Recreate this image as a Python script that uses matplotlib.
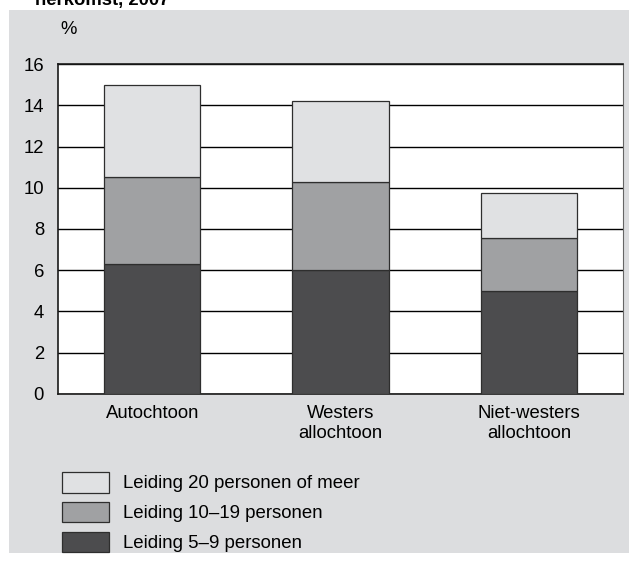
import numpy as np
import matplotlib.pyplot as plt
from matplotlib.patches import Patch, Rectangle

plt.rcParams['font.family'] = ['Liberation Sans', 'DejaVu Sans']

categories = ['Autochtoon', 'Westers\nallochtoon', 'Niet-westers\nallochtoon']
leiding_5_9 = [6.3, 6.0, 5.0]
leiding_10_19 = [4.2, 4.3, 2.55]
leiding_20_plus = [4.5, 3.9, 2.2]
yticks = [0, 2, 4, 6, 8, 10, 12, 14, 16]

c_dark = '#4c4c4e'
c_mid = '#a0a1a3'
c_light = '#e0e1e3'
panel = '#dcdddf'

fig = plt.figure(figsize=(6.29, 5.65), dpi=100)
fig.patches.append(Rectangle((0.0143, 0.0212), 0.99, 0.961, transform=fig.transFigure,
                             facecolor=panel, edgecolor='none', zorder=-10))

ax = fig.add_axes([0.0922, 0.3027, 0.8983, 0.584])
x = np.arange(len(categories))
w = 0.51
low = np.array(leiding_5_9)
mid = np.array(leiding_10_19)
top = np.array(leiding_20_plus)
ax.bar(x, low, w, color=c_dark, edgecolor='#2e2e2e', linewidth=0.9, zorder=3)
ax.bar(x, mid, w, bottom=low, color=c_mid, edgecolor='#2e2e2e', linewidth=0.9, zorder=3)
ax.bar(x, top, w, bottom=low + mid, color=c_light, edgecolor='#2e2e2e', linewidth=0.9, zorder=3)

ax.set_xlim(-0.5, 2.5)
ax.set_ylim(0, 16)
ax.set_yticks(yticks)
ax.set_xticks(x)
ax.set_xticklabels(categories, fontsize=13.3, linespacing=1.2)
ax.tick_params(axis='y', length=0, pad=10, labelsize=13.3)
ax.tick_params(axis='x', length=0, pad=8)
ax.yaxis.grid(True, color='black', linewidth=1.0, zorder=0)
ax.set_axisbelow(True)
ax.set_facecolor('white')
for s in ['left', 'bottom', 'top']:
    ax.spines[s].set_color('#1a1a1a')
    ax.spines[s].set_linewidth(1.2)
ax.spines['right'].set_color('#666666')

fig.text(0.096, 1 - 30 / 565, '%', fontsize=13.3, va='center', ha='left')
fig.text(0.056, 1 - 5 / 565, 'herkomst, 2007', fontsize=13.3, fontweight='bold',
         va='baseline', ha='left')

handles = [Patch(facecolor=c_light, edgecolor='#2e2e2e', linewidth=0.9),
           Patch(facecolor=c_mid, edgecolor='#2e2e2e', linewidth=0.9),
           Patch(facecolor=c_dark, edgecolor='#2e2e2e', linewidth=0.9)]
labels = ['Leiding 20 personen of meer', 'Leiding 10–19 personen', 'Leiding 5–9 personen']
fig.legend(handles, labels, loc='upper left', bbox_to_anchor=(0.0986, 1 - 472 / 565),
           frameon=False, fontsize=13.4, handlelength=2.5, handleheight=1.32,
           labelspacing=0.5, handletextpad=0.76, borderpad=0, borderaxespad=0)

fig.savefig('out.png', dpi=100)
